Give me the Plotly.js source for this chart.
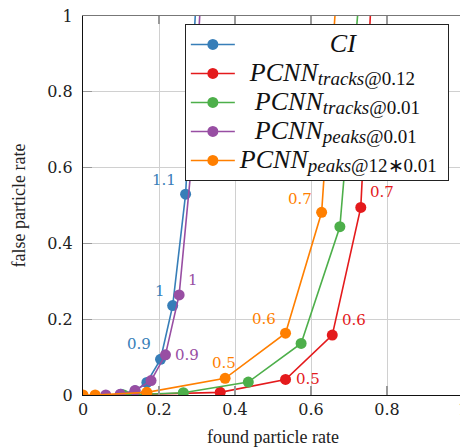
<!DOCTYPE html>
<html>
<head>
<meta charset="utf-8">
<script src="https://cdn.plot.ly/plotly-3.0.1.min.js"></script>
<style>
html,body{margin:0;padding:0;overflow:hidden;background:#fff;}
#chart{width:470px;height:448px;}
</style>
</head>
<body>
<div id="chart"></div>
<script>
// ---- data ----
const seriesNames = [
  "CI",
  "PCNN|tracks|@0.12",
  "PCNN|tracks|@0.01",
  "PCNN|peaks|@0.01",
  "PCNN|peaks|@12∗0.01"
];

const ciX = [0.100, 0.137, 0.168, 0.204, 0.236, 0.270, 0.317];
const ciY = [0.002, 0.011, 0.033, 0.094, 0.236, 0.530, 1.4];
const ciLabels = ["", "", "", "0.9", "1", "1.1", ""];

const tracks012X = [0.166, 0.361, 0.533, 0.656, 0.731, 0.776];
const tracks012Y = [0.002, 0.007, 0.041, 0.158, 0.495, 1.4];
const tracks012Labels = ["", "", "0.5", "0.6", "0.7", ""];

const tracks001X = [0.107, 0.264, 0.435, 0.574, 0.676, 0.756];
const tracks001Y = [0.000, 0.006, 0.034, 0.136, 0.444, 1.4];
const tracks001Labels = ["", "", "", "", "", ""];

const peaks001X = [0.060, 0.098, 0.137, 0.179, 0.217, 0.253, 0.284, 0.330];
const peaks001Y = [0.000, 0.002, 0.012, 0.038, 0.106, 0.264, 0.594, 1.4];
const peaks001Labels = ["", "", "", "", "0.9", "1", "", ""];

const peaks12X = [0.000, 0.032, 0.168, 0.374, 0.533, 0.628, 0.690];
const peaks12Y = [0.000, 0.000, 0.007, 0.044, 0.163, 0.482, 1.4];
const peaks12Labels = ["", "", "", "0.5", "0.6", "0.7", ""];

const xTicks = [0, 0.2, 0.4, 0.6, 0.8, 1];
const yTicks = [0, 0.2, 0.4, 0.6, 0.8, 1];

// ---- styles ----
const colors = ["#377eb8", "#e41a1c", "#4daf4a", "#984ea3", "#ff7f00"];
const FONT = "DejaVu Serif";
const LFONT = "Liberation Serif";
const MAINSIZE = 26;
const SUBSIZE = 19;
const legendPad = [18, 2, 3, 3, 0]; // non-breaking spaces used to centre the legend text

function legendText(name, pad) {
  const parts = name.split("|");
  let html = "&nbsp;".repeat(pad) + "<span style=\"font-size:" + MAINSIZE + "px\"><i>" + parts[0] + "</i></span>";
  if (parts.length > 1) {
    html += "<sub><span style=\"font-size:" + SUBSIZE + "px\"><i>" + parts[1] + "</i>" + parts[2] + "</span></sub>";
  }
  return html + "&nbsp;";
}

// label offsets (px) per series, keyed by label text
const labelShift = [
  {"0.9": [-22, 15], "1": [-13, 15], "1.1": [-22, 14]},
  {"0.5": [22, 0], "0.6": [22, 15], "0.7": [21, 15]},
  {},
  {"0.9": [22, 0], "1": [14, 15]},
  {"0.5": [-1, 15], "0.6": [-22, 14], "0.7": [-22, 13]}
];

const xs = [ciX, tracks012X, tracks001X, peaks001X, peaks12X];
const ys = [ciY, tracks012Y, tracks001Y, peaks001Y, peaks12Y];
const labs = [ciLabels, tracks012Labels, tracks001Labels, peaks001Labels, peaks12Labels];

const traces = xs.map((x, i) => ({
  type: "scatter",
  mode: "lines+markers",
  x: x, y: ys[i],
  name: legendText(seriesNames[i], legendPad[i]),
  line: {color: colors[i], width: 1.6},
  marker: {color: colors[i], size: 11},
  cliponaxis: true
}));

const annotations = [];
labs.forEach((arr, i) => {
  arr.forEach((t, j) => {
    if (!t) return;
    const s = labelShift[i][t] || [0, 0];
    annotations.push({
      x: xs[i][j], y: ys[i][j], xref: "x", yref: "y",
      text: t, showarrow: false,
      xshift: s[0], yshift: s[1],
      font: {family: FONT, size: 15, color: colors[i]}
    });
  });
});

const layout = {
  width: 470, height: 448,
  margin: {l: 83, r: 7, t: 16, b: 53},
  paper_bgcolor: "#fff", plot_bgcolor: "#fff",
  font: {family: FONT, size: 16, color: "#222"},
  showlegend: true,
  legend: {
    x: 0.268, y: 0.979, xanchor: "left", yanchor: "top",
    bgcolor: "#fff", bordercolor: "#222", borderwidth: 1,
    font: {family: LFONT, size: 20, color: "#111"},
    itemwidth: 44, tracegroupgap: 0
  },
  xaxis: {
    range: [0, 1], tickvals: xTicks, ticktext: xTicks.map(String),
    showgrid: true, gridcolor: "#d0d0d0", gridwidth: 1,
    zeroline: false, showline: true, linecolor: "#111", linewidth: 1.2,
    ticks: "inside", ticklen: 9, tickcolor: "#999", tickwidth: 1.3,
    tickfont: {family: FONT, size: 16, color: "#222"},
    title: {text: "found particle rate", font: {family: LFONT, size: 18, color: "#222"}, standoff: 12},
    fixedrange: true
  },
  xaxis2: {
    overlaying: "x", side: "top", range: [0, 1], tickvals: xTicks,
    showticklabels: false, showgrid: false, zeroline: false,
    showline: true, linecolor: "#777", linewidth: 1.5,
    ticks: "inside", ticklen: 8, tickcolor: "#999", tickwidth: 1.3
  },
  yaxis: {
    range: [0, 1], tickvals: yTicks, ticktext: yTicks.map(String),
    showgrid: true, gridcolor: "#d0d0d0", gridwidth: 1,
    zeroline: false, showline: true, linecolor: "#111", linewidth: 1.2,
    ticks: "inside", ticklen: 9, tickcolor: "#999", tickwidth: 1.3,
    tickfont: {family: FONT, size: 16, color: "#222"},
    ticklabelstandoff: 6,
    title: {text: "false particle rate", font: {family: LFONT, size: 18, color: "#222"}, standoff: 16},
    fixedrange: true
  },
  annotations: annotations
};

// invisible helper trace so that the top (mirror) axis is drawn
traces.push({type: "scatter", x: [0], y: [0], xaxis: "x2", yaxis: "y", mode: "markers",
  marker: {opacity: 0}, showlegend: false, hoverinfo: "skip"});

Plotly.newPlot("chart", traces, layout, {staticPlot: true});
</script>
</body>
</html>
